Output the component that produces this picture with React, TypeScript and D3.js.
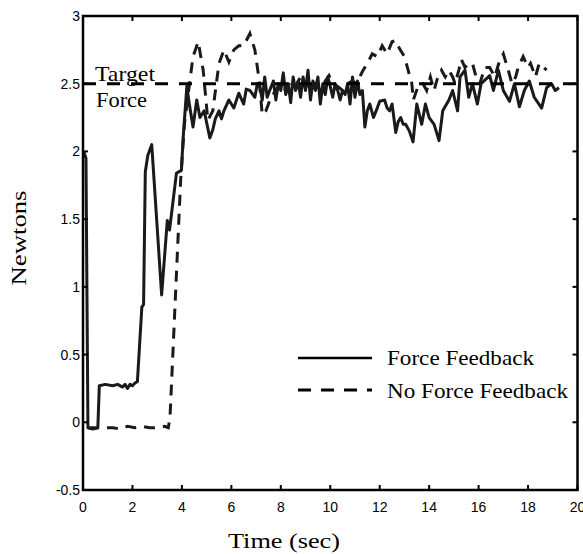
import React from 'react';
import * as d3 from 'd3';

// Force Feedback (solid)
const ffTime = [0.03, 0.12, 0.2, 0.4, 0.6, 0.66, 0.9, 1.2, 1.4, 1.6, 1.7, 1.8, 1.9, 2.0, 2.1, 2.2, 2.38, 2.45, 2.52, 2.62, 2.78, 3.18, 3.41, 3.5, 3.78, 3.98, 4.05, 4.2, 4.3, 4.45, 4.6, 4.73, 4.9, 5.13, 5.25, 5.35, 5.5, 5.6, 5.7, 5.9, 6.1, 6.3, 6.5, 6.6, 6.75, 6.95, 7.05, 7.15, 7.25, 7.35, 7.45, 7.55,
  7.7, 7.8, 7.9, 8.0, 8.1, 8.2, 8.3, 8.4, 8.5, 8.6, 8.7, 8.8, 8.9, 9.0, 9.1, 9.2, 9.3, 9.4, 9.5, 9.6, 9.7, 9.8, 9.9, 10.0, 10.1, 10.2, 10.3, 10.4, 10.5, 10.6, 10.7, 10.8, 10.9, 11.0, 11.1, 11.2, 11.3,
  11.4, 11.5, 11.6, 11.75, 11.9, 12.0, 12.2, 12.3, 12.4, 12.5, 12.65, 12.75, 12.85, 12.95, 13.05, 13.2, 13.35, 13.5, 13.7, 13.85, 14.0, 14.2, 14.4, 14.55, 14.8, 14.95, 15.15, 15.25, 15.45, 15.6, 15.75, 15.95, 16.1, 16.45, 16.6, 16.8, 17.0, 17.25, 17.45, 17.65, 17.85, 18.05, 18.25, 18.55, 18.75, 18.95, 19.1, 19.25];
const ffForce = [2.0, 1.95, -0.04, -0.05, -0.04, 0.27, 0.28, 0.27, 0.28, 0.26, 0.28, 0.25, 0.28, 0.27, 0.29, 0.3, 0.85, 0.87, 1.85, 1.97, 2.05, 0.94, 1.49, 1.42, 1.84, 1.86, 2.1, 2.48, 2.35, 2.18, 2.38, 2.25, 2.3, 2.1, 2.16, 2.24, 2.3, 2.24, 2.3, 2.38, 2.32, 2.43, 2.35, 2.46, 2.45, 2.4, 2.5, 2.48, 2.38, 2.55, 2.4, 2.45,
  2.52, 2.38, 2.5, 2.45, 2.58, 2.42, 2.5, 2.36, 2.55, 2.45, 2.52, 2.4, 2.55, 2.45, 2.6, 2.38, 2.52, 2.45, 2.55, 2.35, 2.5, 2.42, 2.55, 2.48, 2.4, 2.5, 2.45, 2.38, 2.45, 2.42, 2.5, 2.35, 2.55, 2.4, 2.52, 2.42, 2.45,
  2.18, 2.3, 2.35, 2.25, 2.32, 2.37, 2.38, 2.32, 2.3, 2.35, 2.14, 2.22, 2.25, 2.2, 2.2, 2.15, 2.07, 2.35, 2.2, 2.35, 2.25, 2.2, 2.08, 2.3, 2.38, 2.45, 2.3, 2.55, 2.6, 2.4, 2.5, 2.35, 2.5, 2.56, 2.45, 2.6, 2.45, 2.37, 2.5, 2.33, 2.45, 2.52, 2.4, 2.32, 2.47, 2.5, 2.45, 2.47];

// No Force Feedback (dashed)
const nffTime = [0.2, 0.6, 1.22, 1.5, 1.8, 2.1, 2.4, 2.7, 3.0, 3.3, 3.45, 3.52, 3.95, 4.1, 4.3, 4.45, 4.66, 4.86, 5.05, 5.25, 5.5, 5.7, 5.9, 6.1, 6.3, 6.5, 6.75, 6.95, 7.07, 7.15, 7.25, 7.4, 7.6, 7.8, 8.0, 8.2, 8.4, 8.6, 8.8, 9.0, 9.2, 9.4, 9.6, 9.8, 9.95, 10.1, 10.3, 10.5, 10.7, 10.9, 11.07,
  11.3, 11.5, 11.7, 11.9, 12.1, 12.3, 12.5, 12.65, 12.8, 13.0, 13.15, 13.3, 13.36, 13.55, 13.75, 13.9, 14.05, 14.2, 14.35, 14.5, 14.65, 14.8, 14.95, 15.05, 15.2, 15.3, 15.45, 15.6, 15.75, 15.9, 16.05, 16.25, 16.45, 16.65, 16.85, 17.0, 17.2, 17.35, 17.5, 17.6, 17.8, 18.0, 18.1, 18.3, 18.45, 18.75];
const nffForce = [-0.04, -0.04, -0.04, -0.05, -0.03, -0.04, -0.03, -0.04, -0.04, -0.03, -0.04, 0.04, 1.79, 2.2, 2.49, 2.7, 2.81, 2.6, 2.23, 2.3, 2.65, 2.75, 2.66, 2.75, 2.78, 2.78, 2.87, 2.75, 2.6, 2.48, 2.27, 2.3, 2.4, 2.45, 2.5, 2.45, 2.52, 2.48, 2.55, 2.47, 2.53, 2.5, 2.45, 2.52, 2.56, 2.5, 2.48, 2.45, 2.5, 2.52, 2.5,
  2.59, 2.65, 2.72, 2.7, 2.78, 2.72, 2.81, 2.82, 2.76, 2.7, 2.6, 2.5, 2.38, 2.48, 2.5, 2.45, 2.55, 2.45, 2.55, 2.6, 2.55, 2.6, 2.55, 2.5, 2.6, 2.68, 2.62, 2.65, 2.65, 2.55, 2.5, 2.62, 2.62, 2.55, 2.67, 2.72, 2.6, 2.5, 2.55, 2.62, 2.7, 2.62, 2.65, 2.55, 2.65, 2.6];

const xTicks = [0, 2, 4, 6, 8, 10, 12, 14, 16, 18, 20];
const yTicks = [-0.5, 0, 0.5, 1, 1.5, 2, 2.5, 3];
const targetForce = 2.5;

const serif = '"Liberation Serif", "Times New Roman", serif';
const sans = '"Liberation Sans", Arial, sans-serif';

export default function App() {
  const left = 83, right = 577.5, top = 16, bottom = 490;
  const x = d3.scaleLinear().domain([0, 20]).range([left, right]);
  const y = d3.scaleLinear().domain([-0.5, 3]).range([bottom, top]);

  const line = d3.line<[number, number]>()
    .x(d => x(d[0]))
    .y(d => y(d[1]));

  const ffPts = ffTime.map((t, i) => [t, ffForce[i]] as [number, number]);
  const nffPts = nffTime.map((t, i) => [t, nffForce[i]] as [number, number]);

  return (
    <svg width={583} height={554} style={{ position: 'absolute', left: 0, top: 0, background: '#fff' }}>
      <rect x={0} y={0} width={583} height={554} fill="#fff" />

      {/* data */}
      <path d={line(nffPts) || ''} fill="none" stroke="#1a1a1a" strokeWidth={3} strokeDasharray="11,8" />
      <path d={line(ffPts) || ''} fill="none" stroke="#1a1a1a" strokeWidth={3} strokeLinejoin="round" />

      {/* target line */}
      <line x1={x(0)} x2={x(20)} y1={y(targetForce)} y2={y(targetForce)} stroke="#000" strokeWidth={3} strokeDasharray="13,11" />
      <text x={95} y={81} fontFamily={serif} fontSize={22} textLength={60} lengthAdjust="spacingAndGlyphs">Target</text>
      <text x={96} y={107} fontFamily={serif} fontSize={22} textLength={51} lengthAdjust="spacingAndGlyphs">Force</text>

      {/* frame */}
      <rect x={left} y={top} width={right - left} height={bottom - top} fill="none" stroke="#000" strokeWidth={2.5} />

      {xTicks.map(t => (
        <g key={'x' + t}>
          <line x1={x(t)} x2={x(t)} y1={bottom} y2={bottom - 5} stroke="#000" strokeWidth={2} />
          <line x1={x(t)} x2={x(t)} y1={top} y2={top + 5} stroke="#000" strokeWidth={2} />
          <text x={x(t)} y={512} textAnchor="middle" fontFamily={sans} fontSize={14}>{t}</text>
        </g>
      ))}
      {yTicks.map(v => (
        <g key={'y' + v}>
          <line x1={left} x2={left + 5} y1={y(v)} y2={y(v)} stroke="#000" strokeWidth={2} />
          <line x1={right} x2={right - 5} y1={y(v)} y2={y(v)} stroke="#000" strokeWidth={2} />
          <text x={80} y={y(v) + 5} textAnchor="end" fontFamily={sans} fontSize={14}>{v}</text>
        </g>
      ))}

      {/* axis titles */}
      <text transform="translate(26,238) rotate(-90)" textAnchor="middle" fontFamily={serif} fontSize={22} textLength={95} lengthAdjust="spacingAndGlyphs">Newtons</text>
      <text x={284} y={548} textAnchor="middle" fontFamily={serif} fontSize={22} textLength={112} lengthAdjust="spacingAndGlyphs">Time (sec)</text>

      {/* legend */}
      <line x1={298} x2={372} y1={358} y2={358} stroke="#000" strokeWidth={2.5} />
      <text x={387} y={365} fontFamily={serif} fontSize={22} textLength={147} lengthAdjust="spacingAndGlyphs">Force Feedback</text>
      <line x1={298} x2={372} y1={390} y2={390} stroke="#000" strokeWidth={3} strokeDasharray="13,10" />
      <text x={387} y={398} fontFamily={serif} fontSize={22} textLength={181} lengthAdjust="spacingAndGlyphs">No Force Feedback</text>
    </svg>
  );
}
